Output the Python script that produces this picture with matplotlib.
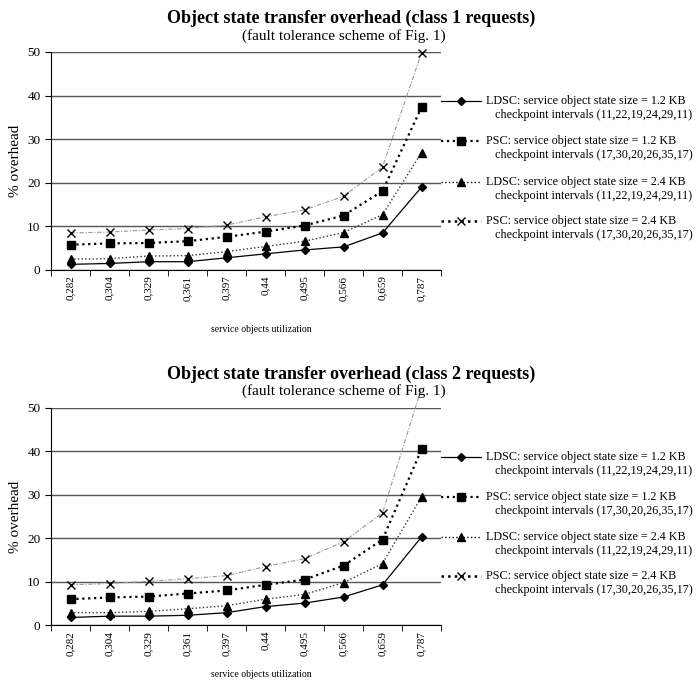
import numpy as np
import matplotlib.pyplot as plt
from matplotlib.lines import Line2D

plt.rcParams['font.family'] = ['Liberation Serif', 'DejaVu Serif']

# utilization values (x categories)
utilization = ['0,282', '0,304', '0,329', '0,361', '0,397', '0,44', '0,495', '0,566', '0,659', '0,787']

# class 1 requests
c1_ldsc_12 = [1.3, 1.5, 1.9, 1.9, 2.8, 3.7, 4.6, 5.3, 8.5, 19.0]
c1_psc_12 = [5.8, 6.1, 6.2, 6.6, 7.6, 8.8, 10.2, 12.5, 18.1, 37.3]
c1_ldsc_24 = [2.5, 2.6, 3.2, 3.3, 4.2, 5.4, 6.6, 8.6, 12.7, 26.9]
c1_psc_24 = [8.5, 8.7, 9.2, 9.5, 10.3, 12.2, 13.8, 16.9, 23.6, 49.8]

# class 2 requests
c2_ldsc_12 = [1.8, 2.1, 2.1, 2.3, 2.9, 4.3, 5.1, 6.5, 9.3, 20.3]
c2_psc_12 = [6.0, 6.4, 6.6, 7.3, 8.0, 9.3, 10.5, 13.7, 19.7, 40.4]
c2_ldsc_24 = [2.9, 2.9, 3.2, 3.8, 4.5, 6.0, 7.1, 9.8, 14.2, 29.5]
c2_psc_24 = [9.3, 9.6, 10.1, 10.7, 11.4, 13.5, 15.3, 19.2, 25.8, 54.5]

labels = [
    ('LDSC: service object state size = 1.2 KB', 'checkpoint intervals (11,22,19,24,29,11)'),
    ('PSC: service object state size = 1.2 KB', 'checkpoint intervals (17,30,20,26,35,17)'),
    ('LDSC: service object state size = 2.4 KB', 'checkpoint intervals (11,22,19,24,29,11)'),
    ('PSC: service object state size = 2.4 KB', 'checkpoint intervals (17,30,20,26,35,17)'),
]

# plot styles: (color, linestyle, linewidth, marker, markersize)
styles = [
    ('black', '-', 0.9, 'D', 4.5),
    ('black', ':', 1.6, 's', 6),
    ('#333333', ':', 1.0, '^', 6),
    ('#999999', (0, (4, 1.5, 1, 1.5)), 0.8, 'x', 6),
]
legend_styles = [
    ('black', '-', 0.9),
    ('black', ':', 1.6),
    ('black', ':', 1.0),
    ('black', ':', 1.8),
]
legend_y = [0.775, 0.59, 0.404, 0.225]


def draw_chart(ax, series, title, xlabel_y):
    x = np.arange(len(utilization))
    for vals, (col, ls, lw, mk, ms) in zip(series, styles):
        vals = np.array(vals)
        ax.plot(x, vals, color=col, linestyle=ls, linewidth=lw,
                clip_on=False, zorder=3)
        # markers beyond the top of the plot area are not shown
        shown = np.ma.masked_where(vals > 50, vals)
        ax.plot(x, shown, linestyle='none', marker=mk, markersize=ms,
                markerfacecolor='black', markeredgecolor='black',
                markeredgewidth=1.0, clip_on=False, zorder=4)

    ax.set_xlim(-0.5, len(utilization) - 0.5)
    ax.set_ylim(0, 50)
    ax.set_yticks(range(0, 51, 10))
    ax.set_xticks(x)
    ax.set_xticklabels(utilization, rotation=90, fontsize=8)
    ax.set_xticks([i - 0.5 for i in range(len(utilization) + 1)], minor=True)
    ax.tick_params(axis='x', which='major', length=0, pad=4)
    ax.tick_params(axis='x', which='minor', length=4, direction='out')
    ax.tick_params(axis='y', labelsize=9.5, length=4, direction='out')
    ax.yaxis.grid(True, color='#555555', linewidth=1.0)
    ax.set_axisbelow(True)
    for s in ['top', 'right']:
        ax.spines[s].set_visible(False)
    ax.set_ylabel('% overhead', fontsize=11, labelpad=4)
    ax.set_xlabel('service objects utilization', fontsize=7)
    ax.xaxis.set_label_coords(0.54, xlabel_y)

    ax.text(0.77, 1.155, title, transform=ax.transAxes, ha='center',
            va='center', fontsize=13, fontweight='bold')
    ax.text(0.75, 1.075, '(fault tolerance scheme of Fig. 1)',
            transform=ax.transAxes, ha='center', va='center', fontsize=11)

    # legend drawn at the right of the plot area
    for i, (lab, (col, ls, lw)) in enumerate(zip(labels, legend_styles)):
        y = legend_y[i]
        ax.add_line(Line2D([1.0, 1.103], [y, y], transform=ax.transAxes,
                           color=col, linestyle=ls, linewidth=lw, clip_on=False))
        ax.add_line(Line2D([1.052], [y], transform=ax.transAxes,
                           marker=styles[i][3], markersize=styles[i][4],
                           color='black', markeredgewidth=1.0, linestyle='none',
                           clip_on=False))
        ax.text(1.115, y, lab[0], transform=ax.transAxes, fontsize=8.7,
                va='center', ha='left')
        ax.text(1.138, y - 0.064, lab[1], transform=ax.transAxes, fontsize=8.7,
                va='center', ha='left')


fig = plt.figure(figsize=(6.96, 6.82), dpi=100)
ax1 = fig.add_axes([51 / 696, 1 - 270 / 682, 390 / 696, 218 / 682])
ax2 = fig.add_axes([51 / 696, 1 - 625.3 / 682, 390 / 696, 217.6 / 682])

draw_chart(ax1, [c1_ldsc_12, c1_psc_12, c1_ldsc_24, c1_psc_24],
           'Object state transfer overhead (class 1 requests)', -0.252)
draw_chart(ax2, [c2_ldsc_12, c2_psc_12, c2_ldsc_24, c2_psc_24],
           'Object state transfer overhead (class 2 requests)', -0.207)

fig.savefig('out.png', dpi=100)
